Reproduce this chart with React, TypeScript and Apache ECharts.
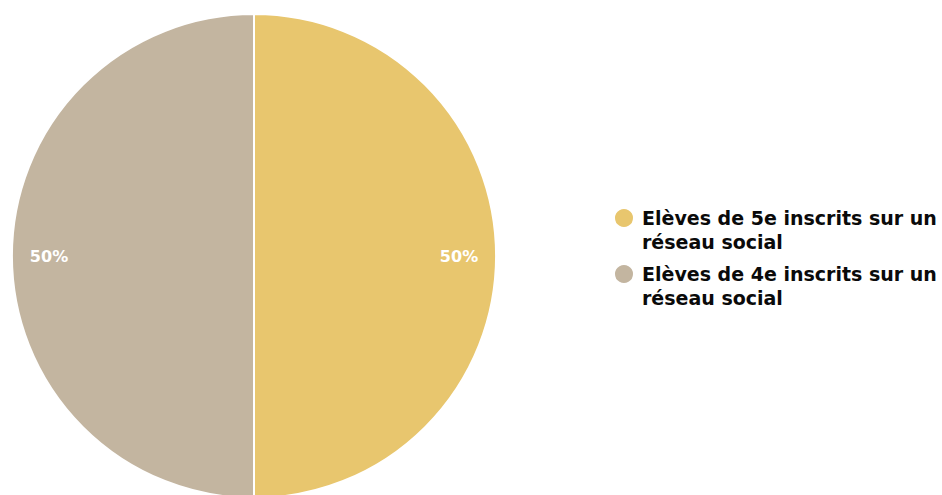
import React, { useEffect, useRef } from "react";
import * as echarts from "echarts";

const categories = [
  "Elèves de 5e inscrits sur un réseau social",
  "Elèves de 4e inscrits sur un réseau social",
];
const values = [50, 50];
const colors = ["#E8C66E", "#C3B5A0"];

export default function App() {
  const ref = useRef<HTMLDivElement>(null);
  useEffect(() => {
    document.body.style.margin = "0";
    const chart = echarts.init(ref.current!, null, { renderer: "svg" });
    const data = categories.map((name, i) => ({
      name,
      value: values[i],
      itemStyle: { color: colors[i] },
    }));
    chart.setOption({
      animation: false,
      backgroundColor: "#ffffff",
      legend: {
        orient: "vertical",
        left: 608,
        top: 177,
        itemGap: -16,
        itemWidth: 20,
        itemHeight: 20,
        icon: "circle",
        selectedMode: false,
        data: categories.map((name, i) => ({ name, itemStyle: { color: colors[i] } })),
        formatter: (name: string) => "\n" + name.replace(" réseau social", "\nréseau social"),
        textStyle: {
          fontFamily: "DejaVu Sans",
          fontWeight: "bold",
          fontSize: 19,
          lineHeight: 24,
          color: "#0a0a0a",
          padding: [0, 0, 0, 3],
        },
      },
      series: [
        {
          type: "pie",
          center: [254, 256],
          radius: 242,
          startAngle: 90,
          clockwise: true,
          label: { show: false },
          labelLine: { show: false },
          itemStyle: { borderColor: "#ffffff", borderWidth: 2 },
          emphasis: { disabled: true },
          data,
        },
        {
          type: "pie",
          center: [254, 256],
          radius: [162, 242],
          startAngle: 90,
          clockwise: true,
          silent: true,
          z: 5,
          itemStyle: { color: "rgba(0,0,0,0)", borderWidth: 0 },
          label: {
            show: true,
            position: "inside",
            formatter: "{d}%",
            color: "#ffffff",
            fontFamily: "DejaVu Sans",
            fontWeight: "bold",
            fontSize: 16,
          },
          labelLine: { show: false },
          emphasis: { disabled: true },
          data: categories.map((name, i) => ({ name, value: values[i] })),
        },
      ],
    });
    return () => chart.dispose();
  }, []);
  return <div ref={ref} style={{ width: 942, height: 495 }} />;
}
